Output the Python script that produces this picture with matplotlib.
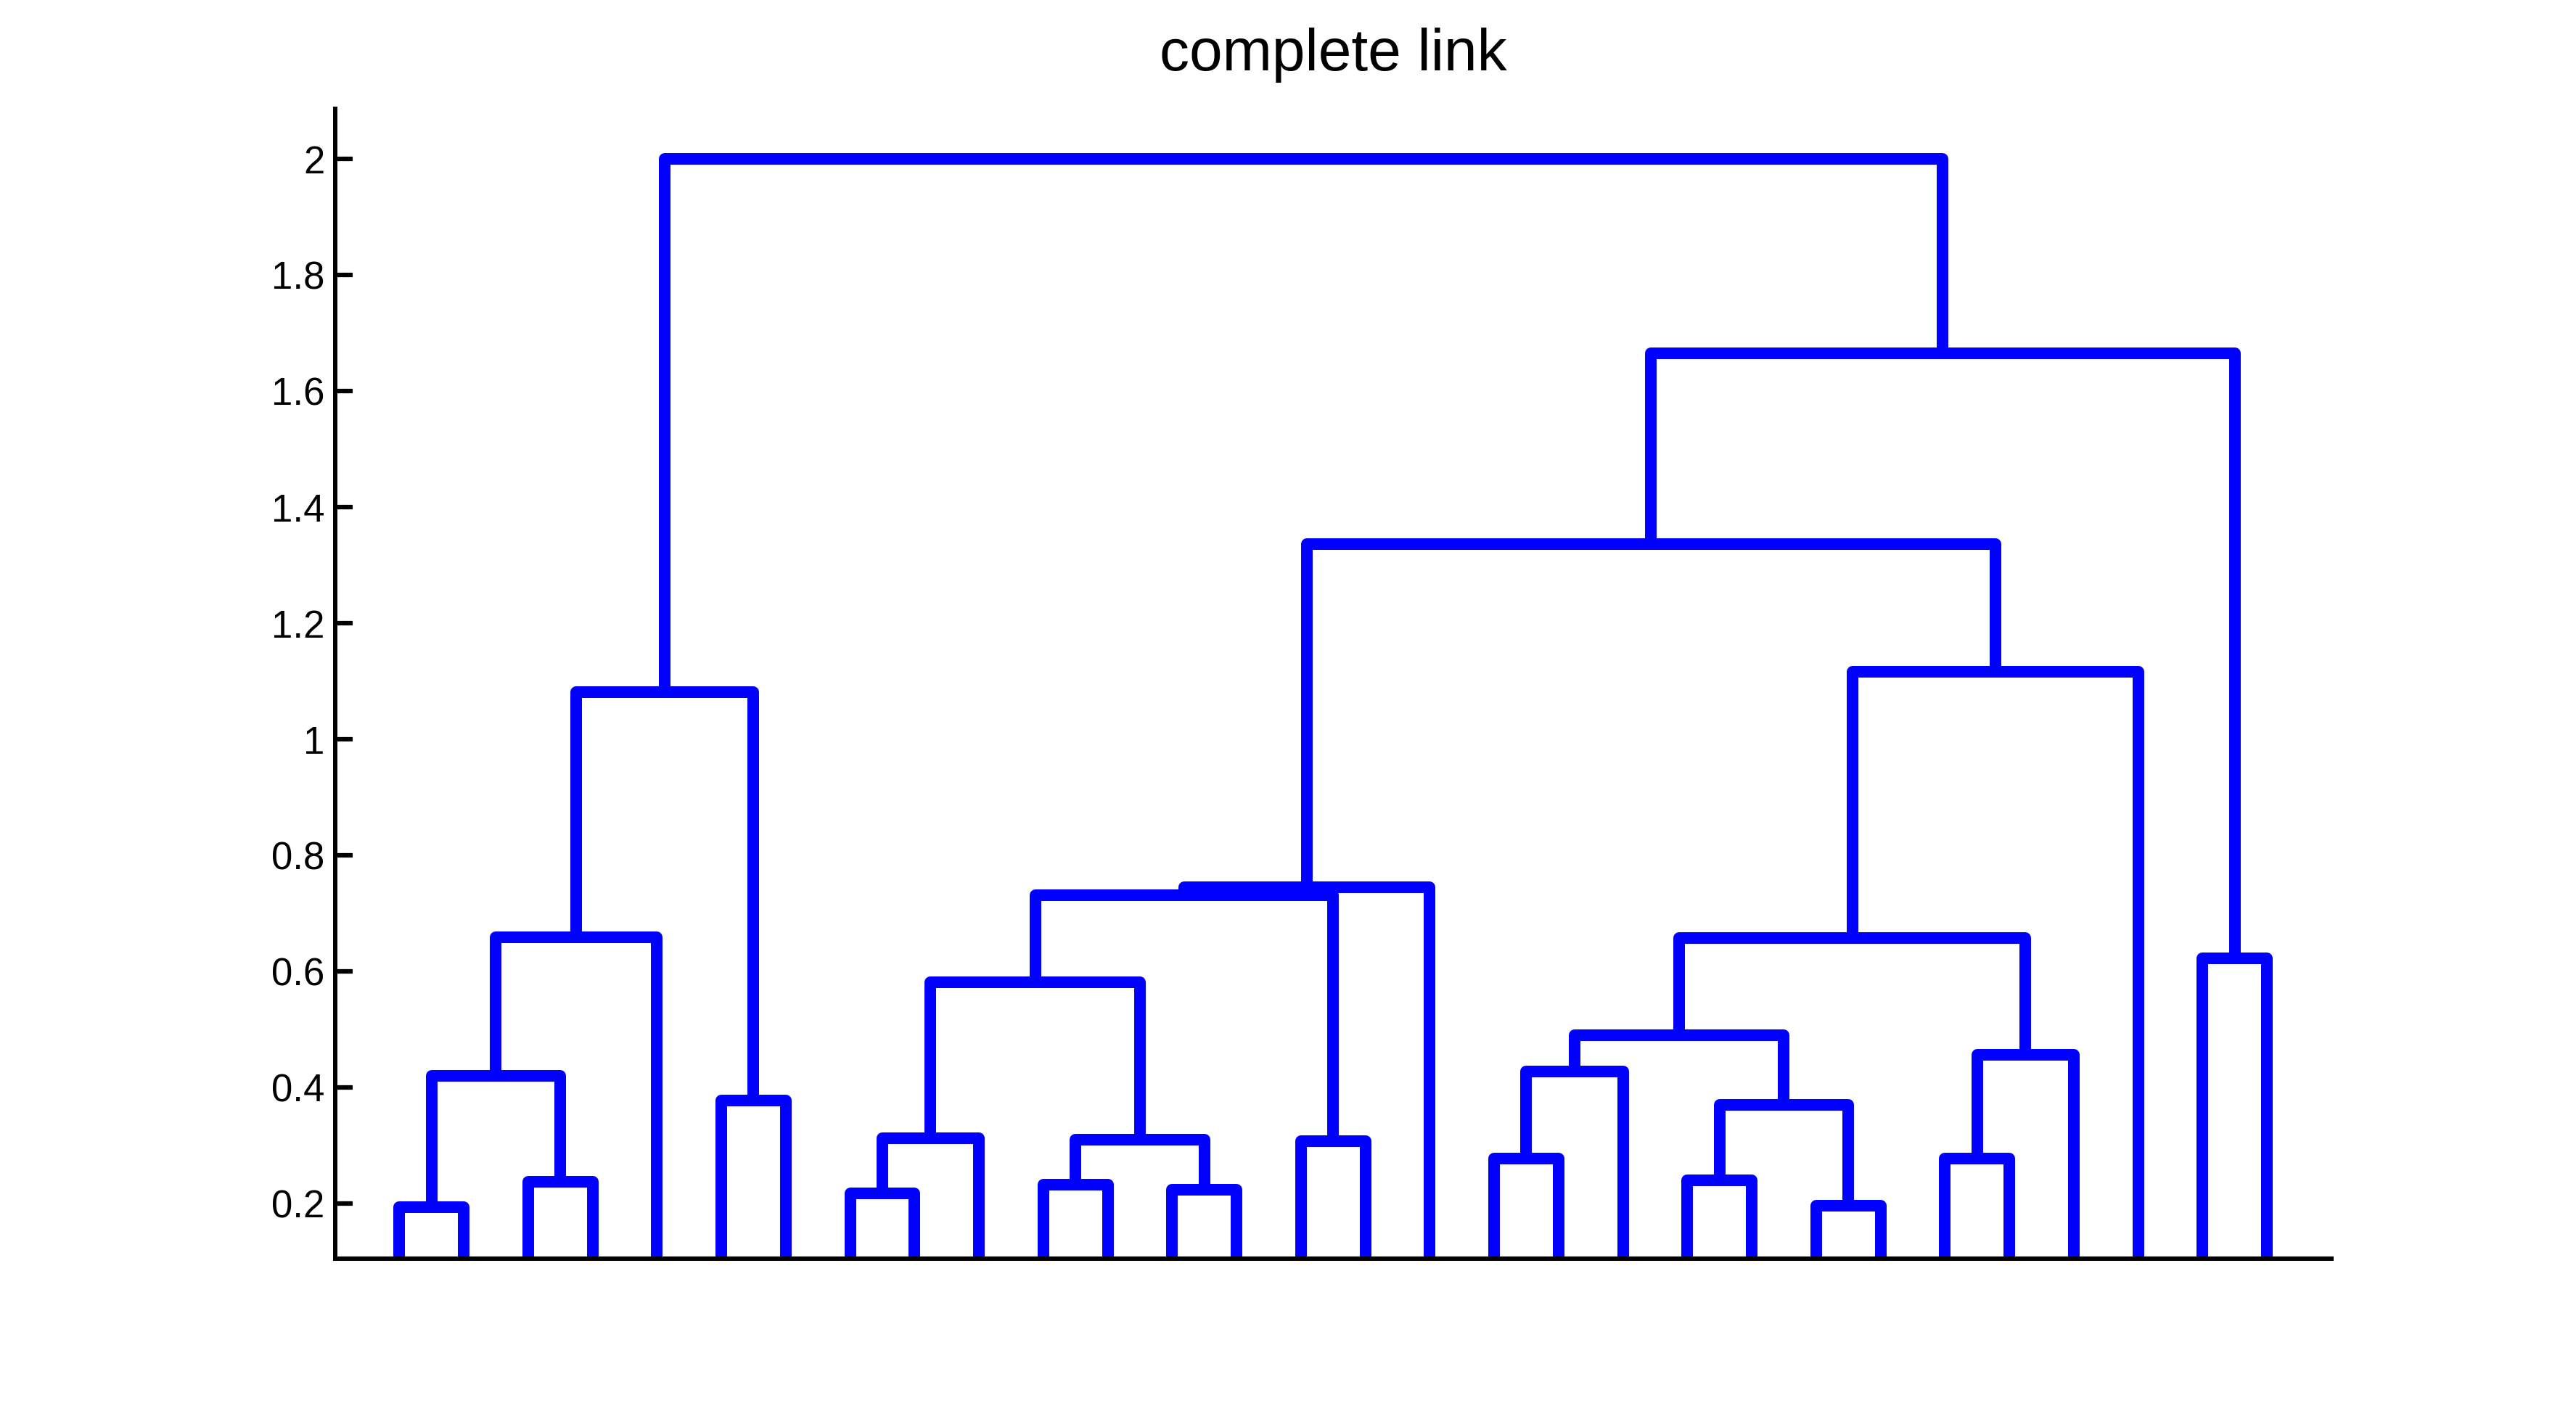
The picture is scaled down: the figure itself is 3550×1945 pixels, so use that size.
import matplotlib
matplotlib.use('Agg')
import matplotlib.pyplot as plt
from matplotlib.ticker import FormatStrFormatter

plt.rcParams['font.family'] = ['Liberation Sans', 'DejaVu Sans']

# merges: left child, right child, height  (leaves 1..30, clusters 31..)
left_child = [1, 3, 31, 33, 6, 34, 8, 37, 11, 13, 39, 38, 15, 42, 44,
              18, 46, 21, 23, 48, 47, 25, 52, 51, 54, 45, 29, 56, 36]
right_child = [2, 4, 32, 5, 7, 35, 9, 10, 12, 14, 40, 41, 16, 43, 17,
               19, 20, 22, 24, 49, 50, 26, 27, 53, 28, 55, 30, 57, 58]
heights = [0.194, 0.238, 0.42, 0.659, 0.377, 1.082, 0.218, 0.312, 0.232, 0.224,
           0.31, 0.581, 0.308, 0.731, 0.745, 0.278, 0.428, 0.24, 0.196, 0.37,
           0.49, 0.278, 0.456, 0.658, 1.116, 1.336, 0.622, 1.665, 2.0]
n_leaves = 30
yticks = [0.2, 0.4, 0.6, 0.8, 1.0, 1.2, 1.4, 1.6, 1.8, 2.0]

xpos = {i: float(i) for i in range(1, n_leaves + 1)}
ypos = {i: 0.0 for i in range(1, n_leaves + 1)}

fig = plt.figure(figsize=(35.5, 19.45), dpi=100)
ax = fig.add_axes([0.13, 0.108, 0.775, 0.815])

for k, (a, b, h) in enumerate(zip(left_child, right_child, heights)):
    node = n_leaves + 1 + k
    xa, xb = xpos[a], xpos[b]
    ax.plot([xa, xa, xb, xb], [ypos[a], h, h, ypos[b]], color=(0, 0, 1),
            linewidth=11.5, solid_joinstyle='round', solid_capstyle='butt')
    xpos[node] = (xa + xb) / 2
    ypos[node] = h

ax.set_xlim(0, n_leaves + 1)
ax.set_ylim(0.105, 2.087)
ax.set_yticks(yticks)
ax.yaxis.set_major_formatter(FormatStrFormatter('%g'))
ax.set_xticks([])
ax.spines['top'].set_visible(False)
ax.spines['right'].set_visible(False)
for s in ['left', 'bottom']:
    ax.spines[s].set_linewidth(4.3)
ax.tick_params(axis='y', direction='in', length=17, width=4.5, labelsize=38, pad=10)

ax.set_title('complete link', fontsize=59, pad=38)

fig.savefig('out.png', dpi=100)
